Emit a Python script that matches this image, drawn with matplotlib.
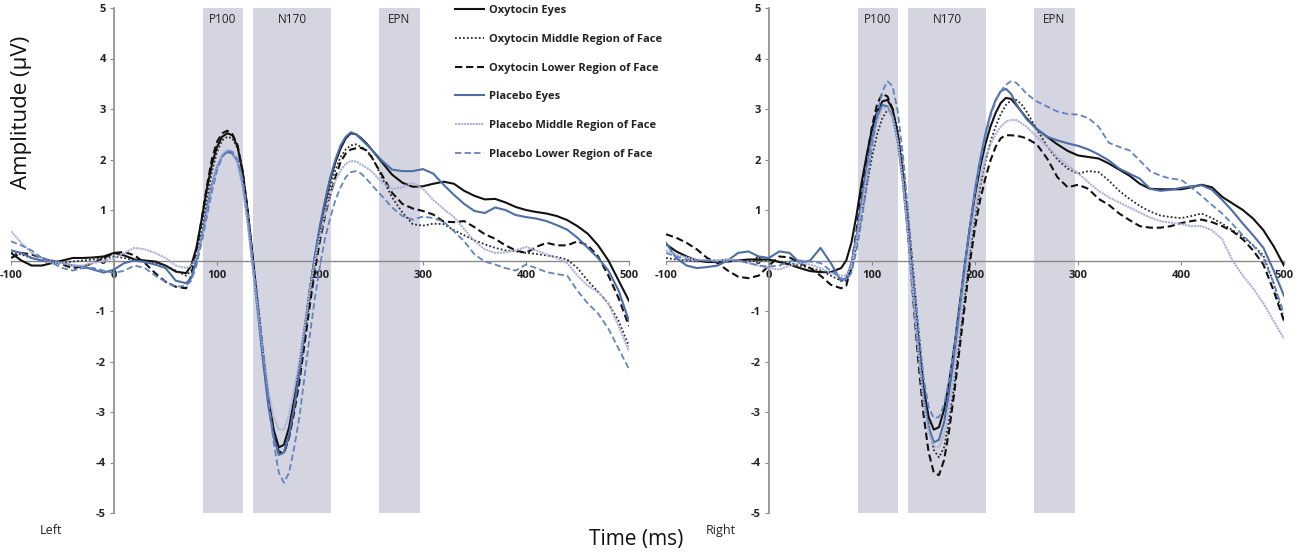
import numpy as np
import matplotlib
matplotlib.use("Agg")
import matplotlib.pyplot as plt

plt.rcParams['font.family'] = ['Open Sans', 'DejaVu Sans']

# ---------------- data ----------------
time_ms = np.concatenate([np.arange(-100, 71, 10), np.arange(75, 246, 5), np.arange(250, 501, 10)])

series_labels = ["Oxytocin Eyes", "Oxytocin Middle Region of Face", "Oxytocin Lower Region of Face",
                 "Placebo Eyes", "Placebo Middle Region of Face", "Placebo Lower Region of Face"]

components = ["P100", "N170", "EPN"]
comp_start = [86, 135, 257]
comp_end = [125, 211, 297]

x_ticks = [-100, 0, 100, 200, 300, 400, 500]
y_ticks = [-5, -4, -3, -2, -1, 0, 1, 2, 3, 4, 5]
panel_names = ["Left", "Right"]

# Left hemisphere
left_oxy_eyes = [0.15, 0.0, -0.1, -0.1, -0.05, 0.0, 0.05, 0.05, 0.06, 0.08, 0.15, 0.1, 0.02, 0.0, -0.02, -0.1, -0.22, -0.25,
    -0.1, 0.25, 0.8, 1.4, 1.9, 2.25, 2.45, 2.52, 2.48, 2.25, 1.75, 0.95, 0.0, -0.95, -1.9, -2.75, -3.35, -3.7, -3.65, -3.3,
    -2.75, -2.1, -1.35, -0.6, 0.05, 0.65, 1.15, 1.6, 1.95, 2.22, 2.42, 2.52, 2.5, 2.42, 2.32,
    2.2, 1.95, 1.7, 1.54, 1.46, 1.47, 1.52, 1.56, 1.52, 1.38, 1.28, 1.21, 1.22, 1.15, 1.06, 1.0, 0.96, 0.93, 0.88, 0.8,
    0.68, 0.53, 0.3, 0.0, -0.4, -0.8]
left_oxy_middle = [0.15, 0.12, 0.05, 0.0, -0.05, -0.05, -0.02, 0.0, 0.02, 0.05, 0.08, 0.05, 0.0, -0.02, -0.05, -0.1, -0.2, -0.3,
    -0.2, 0.1, 0.6, 1.2, 1.75, 2.15, 2.38, 2.45, 2.42, 2.22, 1.7, 0.9, -0.05, -1.0, -1.95, -2.8, -3.4, -3.78, -3.8, -3.5,
    -2.95, -2.3, -1.55, -0.8, -0.1, 0.5, 1.0, 1.45, 1.8, 2.05, 2.2, 2.28, 2.3, 2.25, 2.18,
    2.07, 1.65, 1.25, 0.95, 0.72, 0.69, 0.73, 0.72, 0.6, 0.5, 0.4, 0.32, 0.25, 0.2, 0.18, 0.15, 0.13, 0.1, 0.07, 0.02,
    -0.15, -0.4, -0.62, -0.85, -1.2, -1.7]
left_oxy_lower = [0.05, 0.15, 0.12, 0.05, -0.02, -0.08, -0.15, -0.12, -0.05, 0.05, 0.15, 0.17, 0.1, -0.05, -0.25, -0.42, -0.52, -0.55,
    -0.3, 0.2, 0.8, 1.45, 2.0, 2.35, 2.52, 2.57, 2.5, 2.28, 1.75, 0.95, 0.0, -1.0, -1.95, -2.8, -3.4, -3.8, -3.82, -3.5,
    -3.0, -2.4, -1.65, -0.9, -0.2, 0.4, 0.9, 1.3, 1.65, 1.95, 2.12, 2.2, 2.22, 2.23, 2.18,
    2.05, 1.7, 1.34, 1.12, 1.03, 0.98, 0.91, 0.77, 0.76, 0.78, 0.66, 0.52, 0.43, 0.3, 0.2, 0.15, 0.27, 0.35, 0.3, 0.3,
    0.38, 0.3, 0.08, -0.3, -0.75, -1.3]
left_plac_eyes = [0.2, 0.15, 0.05, 0.0, 0.0, -0.05, -0.1, -0.12, -0.18, -0.24, -0.18, -0.05, 0.0, -0.03, -0.08, -0.15, -0.4, -0.45,
    -0.35, 0.0, 0.45, 1.0, 1.5, 1.85, 2.07, 2.15, 2.12, 1.95, 1.5, 0.75, -0.15, -1.1, -2.05, -2.9, -3.5, -3.85, -3.8, -3.45,
    -2.9, -2.2, -1.4, -0.6, 0.1, 0.7, 1.2, 1.65, 2.0, 2.28, 2.45, 2.54, 2.5, 2.4, 2.3,
    2.2, 1.98, 1.8, 1.77, 1.77, 1.81, 1.72, 1.5, 1.3, 1.12, 0.98, 0.94, 1.05, 1.0, 0.9, 0.86, 0.83, 0.78, 0.7, 0.61,
    0.45, 0.25, 0.05, -0.2, -0.6, -1.2]
left_plac_middle = [0.58, 0.35, 0.15, 0.05, -0.05, -0.05, -0.1, -0.1, -0.05, 0.0, 0.05, 0.15, 0.25, 0.22, 0.15, 0.05, -0.1, -0.15,
    -0.1, 0.05, 0.4, 0.9, 1.45, 1.85, 2.1, 2.2, 2.15, 1.95, 1.45, 0.7, -0.2, -1.0, -1.85, -2.6, -3.1, -3.35, -3.35, -3.05,
    -2.55, -2.0, -1.3, -0.6, 0.0, 0.5, 0.95, 1.3, 1.58, 1.78, 1.92, 1.97, 1.96, 1.9, 1.84,
    1.77, 1.55, 1.42, 1.45, 1.54, 1.42, 1.2, 1.02, 0.86, 0.62, 0.38, 0.22, 0.15, 0.16, 0.2, 0.27, 0.2, 0.12, 0.05, -0.05,
    -0.3, -0.5, -0.62, -0.85, -1.3, -1.8]
left_plac_lower = [0.38, 0.3, 0.2, 0.05, -0.05, -0.15, -0.2, -0.15, -0.15, -0.2, -0.25, -0.2, -0.1, -0.15, -0.3, -0.42, -0.52, -0.5,
    -0.4, -0.1, 0.35, 0.85, 1.35, 1.78, 2.05, 2.18, 2.15, 2.0, 1.6, 0.9, 0.0, -0.85, -1.8, -2.75, -3.6, -4.2, -4.4, -4.2,
    -3.7, -3.1, -2.3, -1.5, -0.75, -0.1, 0.45, 0.85, 1.2, 1.45, 1.65, 1.75, 1.77, 1.72, 1.62,
    1.5, 1.28, 1.05, 0.88, 0.81, 0.87, 0.84, 0.77, 0.58, 0.38, 0.12, -0.02, -0.08, -0.15, -0.2, -0.08, -0.15, -0.23, -0.27, -0.3,
    -0.6, -0.85, -1.05, -1.35, -1.75, -2.15]

# Right hemisphere
right_oxy_eyes = [0.32, 0.18, 0.08, 0.0, -0.03, -0.03, -0.02, 0.0, 0.02, 0.02, 0.02, -0.03, -0.08, -0.15, -0.21, -0.23, -0.23, -0.15,
    0.0, 0.35, 0.9, 1.55, 2.1, 2.6, 2.95, 3.15, 3.18, 3.0, 2.5, 1.7, 0.65, -0.5, -1.6, -2.5, -3.1, -3.35, -3.3, -2.95,
    -2.4, -1.7, -0.9, -0.1, 0.65, 1.3, 1.85, 2.3, 2.65, 2.92, 3.12, 3.22, 3.2, 3.08, 2.95,
    2.82, 2.6, 2.45, 2.3, 2.17, 2.08, 2.05, 2.02, 1.92, 1.8, 1.68, 1.52, 1.42, 1.41, 1.41, 1.41, 1.45, 1.5, 1.45, 1.26,
    1.13, 1.0, 0.83, 0.6, 0.28, -0.1]
right_oxy_middle = [0.05, 0.02, 0.0, -0.02, 0.0, 0.0, 0.02, 0.0, -0.02, 0.0, 0.0, -0.02, -0.05, -0.1, -0.15, -0.2, -0.3, -0.4,
    -0.4, -0.2, 0.3, 0.9, 1.5, 2.05, 2.5, 2.82, 2.98, 2.95, 2.6, 1.9, 0.9, -0.2, -1.35, -2.4, -3.25, -3.75, -3.9, -3.7,
    -3.15, -2.45, -1.6, -0.75, 0.1, 0.85, 1.45, 1.95, 2.35, 2.65, 2.9, 3.08, 3.17, 3.18, 3.1,
    2.95, 2.6, 2.26, 2.0, 1.82, 1.72, 1.77, 1.75, 1.58, 1.38, 1.22, 1.08, 0.97, 0.89, 0.86, 0.84, 0.88, 0.93, 0.84, 0.73,
    0.6, 0.47, 0.3, 0.1, -0.45, -1.2]
right_oxy_lower = [0.52, 0.45, 0.35, 0.22, 0.05, -0.05, -0.2, -0.32, -0.35, -0.3, -0.1, 0.08, 0.06, -0.05, -0.15, -0.3, -0.48, -0.55,
    -0.5, -0.1, 0.6, 1.35, 2.05, 2.65, 3.1, 3.3, 3.25, 3.0, 2.45, 1.6, 0.5, -0.75, -2.0, -3.05, -3.8, -4.2, -4.25, -3.95,
    -3.35, -2.6, -1.75, -0.9, -0.05, 0.65, 1.2, 1.62, 1.98, 2.25, 2.42, 2.48, 2.48, 2.47, 2.45,
    2.42, 2.3, 2.02, 1.65, 1.45, 1.5, 1.42, 1.22, 1.1, 0.93, 0.8, 0.68, 0.65, 0.65, 0.68, 0.74, 0.78, 0.81, 0.76, 0.68,
    0.58, 0.42, 0.2, -0.08, -0.6, -1.2]
right_plac_eyes = [0.35, 0.05, -0.1, -0.15, -0.13, -0.1, 0.0, 0.15, 0.18, 0.08, 0.05, 0.18, 0.15, -0.05, 0.0, 0.25, -0.05, -0.41,
    -0.35, -0.05, 0.5, 1.2, 1.85, 2.4, 2.85, 3.08, 3.05, 2.85, 2.35, 1.55, 0.5, -0.65, -1.75, -2.7, -3.3, -3.6, -3.55, -3.2,
    -2.6, -1.85, -1.0, -0.15, 0.65, 1.4, 2.0, 2.5, 2.9, 3.18, 3.35, 3.4, 3.3, 3.1, 2.95,
    2.8, 2.6, 2.45, 2.38, 2.32, 2.27, 2.2, 2.1, 1.98, 1.82, 1.72, 1.62, 1.42, 1.38, 1.4, 1.44, 1.47, 1.49, 1.4, 1.2,
    0.98, 0.73, 0.5, 0.25, -0.2, -0.7]
right_plac_middle = [0.2, 0.12, 0.06, 0.02, 0.0, 0.0, 0.02, 0.0, -0.05, -0.1, -0.15, -0.18, -0.1, -0.05, -0.08, -0.15, -0.25, -0.3,
    -0.3, -0.1, 0.4, 1.05, 1.7, 2.3, 2.75, 3.0, 3.02, 2.85, 2.35, 1.55, 0.5, -0.65, -1.8, -2.8, -3.4, -3.68, -3.7, -3.45,
    -2.9, -2.15, -1.3, -0.45, 0.3, 1.0, 1.55, 2.0, 2.3, 2.5, 2.65, 2.75, 2.78, 2.78, 2.72,
    2.65, 2.45, 2.26, 2.05, 1.88, 1.73, 1.55, 1.38, 1.25, 1.15, 1.05, 0.95, 0.85, 0.78, 0.75, 0.72, 0.68, 0.68, 0.6, 0.42,
    0.0, -0.3, -0.55, -0.85, -1.2, -1.55]
right_plac_lower = [0.15, 0.08, 0.02, 0.0, 0.0, -0.02, -0.02, 0.0, -0.05, -0.1, -0.12, -0.1, -0.02, 0.0, -0.02, -0.05, -0.2, -0.35,
    -0.38, -0.25, 0.2, 0.8, 1.5, 2.25, 2.9, 3.35, 3.55, 3.45, 2.95, 2.1, 0.95, -0.25, -1.35, -2.3, -2.9, -3.12, -3.1, -2.85,
    -2.35, -1.7, -0.9, -0.1, 0.65, 1.35, 1.95, 2.45, 2.85, 3.15, 3.35, 3.48, 3.55, 3.52, 3.42,
    3.3, 3.15, 3.05, 2.95, 2.9, 2.89, 2.82, 2.65, 2.33, 2.25, 2.18, 1.98, 1.77, 1.68, 1.62, 1.6, 1.45, 1.28, 1.1, 0.93,
    0.72, 0.5, 0.3, 0.05, -0.45, -1.05]

left_series = [left_oxy_eyes, left_oxy_middle, left_oxy_lower, left_plac_eyes, left_plac_middle, left_plac_lower]
right_series = [right_oxy_eyes, right_oxy_middle, right_oxy_lower, right_plac_eyes, right_plac_middle, right_plac_lower]

# ---------------- styles ----------------
styles = [
    dict(color="#111111", lw=1.5, ls="-"),
    dict(color="#2a2a2a", lw=1.3, ls=(0, (1, 1.2))),
    dict(color="#111111", lw=1.5, ls=(0, (3.5, 1.8))),
    dict(color="#4b6ea9", lw=1.5, ls="-"),
    dict(color="#abb1d6", lw=1.5, ls=(0, (1, 0.4))),
    dict(color="#6382c2", lw=1.3, ls=(0, (3.5, 1.8))),
]
shade_color = "#d5d5e1"
axis_color = "#8a8a8a"

fig = plt.figure(figsize=(13, 5.55), dpi=100)
ax_bottom = 1 - 513 / 555
ax_height = 505 / 555
axL = fig.add_axes([11 / 1300, ax_bottom, 618 / 1300, ax_height])
axR = fig.add_axes([666 / 1300, ax_bottom, 618 / 1300, ax_height])

for ax, data, pname in [(axL, left_series, panel_names[0]), (axR, right_series, panel_names[1])]:
    for s, e, name in zip(comp_start, comp_end, components):
        ax.axvspan(s, e, ymin=0, ymax=1, color=shade_color, lw=0, zorder=0)
        ax.text((s + e) / 2, 4.78, name, ha="center", va="center", fontsize=8.5, color="#222222", zorder=1)
    for vals, st, lab in zip(data, styles, series_labels):
        ax.plot(time_ms, vals, color=st["color"], lw=st["lw"], linestyle=st["ls"], label=lab, zorder=3)
    ax.set_xlim(-100, 500)
    ax.set_ylim(-5, 5)
    for side in ["top", "right"]:
        ax.spines[side].set_visible(False)
    ax.spines["left"].set_position(("data", 0))
    ax.spines["bottom"].set_position(("data", 0))
    ax.spines["left"].set_color(axis_color)
    ax.spines["bottom"].set_color(axis_color)
    ax.spines["left"].set_linewidth(1.2)
    ax.spines["bottom"].set_linewidth(1.0)
    ax.spines["left"].set_zorder(2)
    ax.spines["bottom"].set_zorder(2)
    ax.set_xticks(x_ticks)
    ax.set_yticks(y_ticks)
    ax.set_xticklabels([str(v) for v in x_ticks])
    ax.set_yticklabels([str(v) for v in y_ticks])
    ax.tick_params(axis="both", colors=axis_color, labelcolor="#222222", labelsize=8, length=3, width=0.8)
    ax.tick_params(axis="x", pad=4)
    ax.tick_params(axis="y", pad=3)
    for t in ax.get_xticklabels() + ax.get_yticklabels():
        t.set_fontweight("bold")
    ax.patch.set_alpha(0)
    ax.text(0.047 if pname == "Left" else 0.065, -0.035, pname, transform=ax.transAxes,
            fontsize=9, color="#222222", ha="left", va="center")

leg = axL.legend(loc="upper left", bbox_to_anchor=(455 / 1300, 1 - 5 / 555), bbox_transform=fig.transFigure,
                 frameon=False, fontsize=8, handlelength=2.6, handletextpad=0.45, labelspacing=1.6,
                 borderpad=0, borderaxespad=0)
for t in leg.get_texts():
    t.set_fontweight("bold")
    t.set_color("#222222")

fig.text(22 / 1300, 1 - 112 / 555, "Amplitude (μV)", rotation=90, ha="center", va="center", fontsize=16, color="#111111")
fig.text(636 / 1300, 1 - 540 / 555, "Time (ms)", ha="center", va="center", fontsize=15, color="#111111")

fig.savefig("out.png", dpi=100)
